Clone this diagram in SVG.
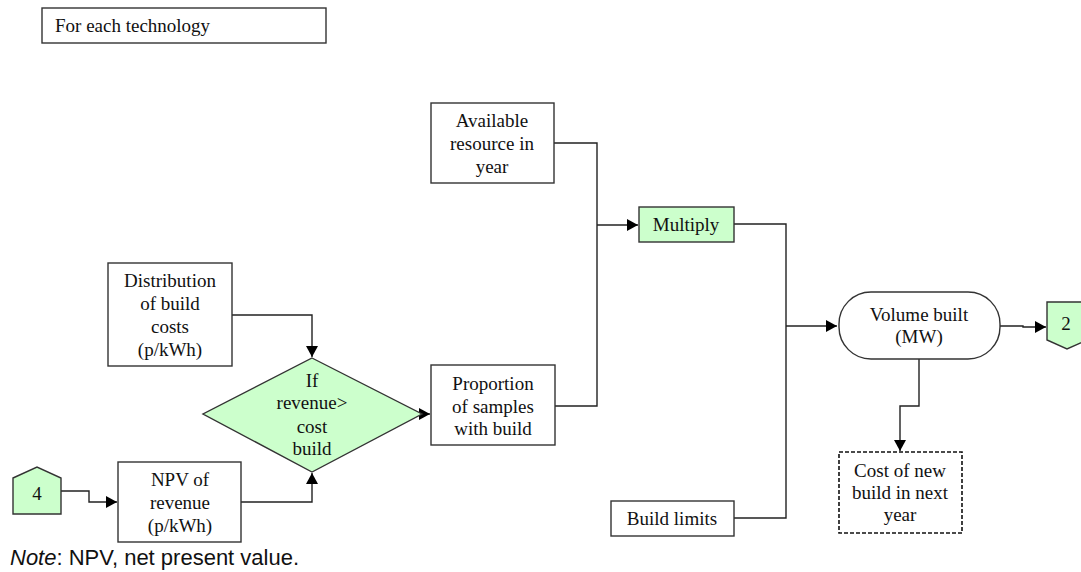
<svg xmlns="http://www.w3.org/2000/svg" width="1081" height="572" viewBox="0 0 1081 572">
<style>
.box{fill:#fff;stroke:#333;stroke-width:1.4}
.green{fill:#ccffcc;stroke:#333;stroke-width:1.4}
.dash{fill:#fff;stroke:#111;stroke-width:1.6;stroke-dasharray:4 2}
.t{font-family:"Liberation Serif","Times New Roman",serif;font-size:19px;fill:#111;text-anchor:middle}
.conn{fill:none;stroke:#222;stroke-width:1.4}
.note{font-family:"Liberation Sans",Arial,sans-serif;font-size:22px;fill:#111}
</style>
<defs>
<marker id="arr" markerUnits="userSpaceOnUse" markerWidth="12" markerHeight="12" viewBox="0 0 12 12" refX="11" refY="6" orient="auto">
<path d="M0,0 L11,6 L0,12 Z" fill="#000"/>
</marker>
</defs>
<rect width="1081" height="572" fill="#fff"/>
<g id="connectors">
<path class="conn" d="M61,491 H89 V502 H117" marker-end="url(#arr)"/>
<path class="conn" d="M232,315 H312 V357" marker-end="url(#arr)"/>
<path class="conn" d="M241,502 H312 V473" marker-end="url(#arr)"/>
<path class="conn" d="M422,414 H430" marker-end="url(#arr)"/>
<path class="conn" d="M554,143 H597 V406 H555"/>
<path class="conn" d="M597,225 H638" marker-end="url(#arr)"/>
<path class="conn" d="M734,224 H786 V518 H734"/>
<path class="conn" d="M786,326 H837" marker-end="url(#arr)"/>
<path class="conn" d="M1000,326 H1023 V327 H1046" marker-end="url(#arr)"/>
<path class="conn" d="M919,359 V406 H900 V451" marker-end="url(#arr)"/>
</g>
<g id="for-each">
<rect class="box" x="42" y="8" width="284" height="35"/>
<text class="t" x="55" y="32" style="text-anchor:start">For each technology</text>
</g>
<g id="distribution">
<rect class="box" x="108" y="263" width="124" height="103"/>
<text class="t" x="170" y="287">Distribution</text>
<text class="t" x="170" y="310">of build</text>
<text class="t" x="170" y="333">costs</text>
<text class="t" x="170" y="356">(p/kWh)</text>
</g>
<g id="decision">
<polygon class="green" points="312,358 422,414 312,472 203,414"/>
<text class="t" x="312" y="387">If</text>
<text class="t" x="312" y="409">revenue&gt;</text>
<text class="t" x="312" y="433">cost</text>
<text class="t" x="312" y="455">build</text>
</g>
<g id="connector-4">
<polygon class="green" points="13,478 37,467 61,478 61,514 13,514"/>
<text class="t" x="37" y="500">4</text>
</g>
<g id="npv">
<rect class="box" x="118" y="462" width="123" height="80"/>
<text class="t" x="180" y="486">NPV of</text>
<text class="t" x="180" y="509">revenue</text>
<text class="t" x="180" y="532">(p/kWh)</text>
</g>
<g id="available">
<rect class="box" x="431" y="103" width="123" height="80"/>
<text class="t" x="492" y="127">Available</text>
<text class="t" x="492" y="150">resource in</text>
<text class="t" x="492" y="173">year</text>
</g>
<g id="proportion">
<rect class="box" x="431" y="365" width="124" height="80"/>
<text class="t" x="493" y="390">Proportion</text>
<text class="t" x="493" y="413">of samples</text>
<text class="t" x="493" y="435">with build</text>
</g>
<g id="multiply">
<rect class="green" x="639" y="207" width="95" height="35"/>
<text class="t" x="686" y="231">Multiply</text>
</g>
<g id="build-limits">
<rect class="box" x="611" y="501" width="123" height="35"/>
<text class="t" x="672" y="525">Build limits</text>
</g>
<g id="volume">
<rect class="box" x="839" y="292" width="161" height="67" rx="32" ry="32"/>
<text class="t" x="919" y="321">Volume built</text>
<text class="t" x="919" y="343">(MW)</text>
</g>
<g id="connector-2">
<polygon class="green" points="1047,302 1087,302 1087,340 1067,349 1047,340"/>
<text class="t" x="1066" y="330">2</text>
</g>
<g id="cost-next">
<rect class="dash" x="839" y="452" width="123" height="81"/>
<text class="t" x="900" y="477">Cost of new</text>
<text class="t" x="900" y="499">build in next</text>
<text class="t" x="900" y="521">year</text>
</g>
<text class="note" x="10" y="565"><tspan font-style="italic">Note</tspan>: NPV, net present value.</text>
</svg>
